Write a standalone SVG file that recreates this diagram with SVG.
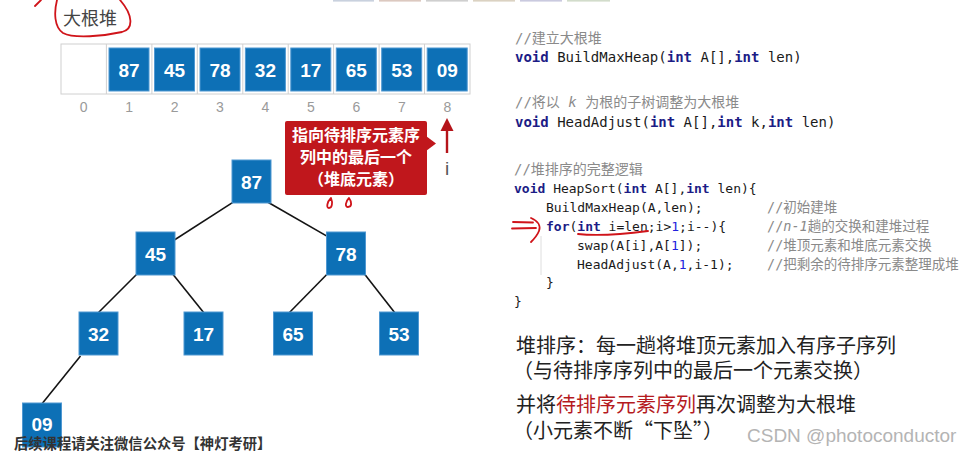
<svg xmlns="http://www.w3.org/2000/svg" width="971" height="455" viewBox="0 0 971 455">
<defs>
<style>
.cell{fill:#ffffff;stroke:#d0d0d0;stroke-width:1}
.blk{fill:#0d70b6;stroke:#4f98d2;stroke-width:1}
.num{font-family:"Liberation Sans",Arial,sans-serif;font-size:19px;font-weight:bold;fill:#ffffff;text-anchor:middle}
.idx{font-family:"Liberation Sans",Arial,sans-serif;font-size:14px;fill:#9a9a9a;text-anchor:middle}
.edge{stroke:#141414;stroke-width:1.6;fill:none}
.code{font-family:"DejaVu Sans Mono","Noto Sans CJK SC",monospace;fill:#1a1a1a}
.kw{fill:#1c1c86;font-weight:bold}
.n1{fill:#2222dd}
.cm{font-family:"DejaVu Sans Mono","Noto Sans CJK SC",monospace;fill:#8a8a8a;font-size:14px}
.cm2{font-family:"DejaVu Sans Mono","Noto Sans CJK SC",monospace;fill:#8a8a8a;font-size:13.5px}
.big{font-family:"Noto Sans CJK SC","Noto Sans",sans-serif;font-size:20px;fill:#222222}
.ink{stroke:#d0141a;stroke-width:1.8;fill:none;stroke-linecap:round;stroke-linejoin:round}
</style>
</defs>

<!-- faint cropped toolbar at top -->
<g id="topstrip">
<rect x="333" y="0" width="41" height="1.6" fill="#c9d1de"/>
<rect x="379" y="0" width="42" height="1.6" fill="#dcc9c0"/>
<rect x="426" y="0" width="42" height="1.6" fill="#cfcfcf"/>
<rect x="473" y="0" width="42" height="1.6" fill="#dbd2c2"/>
<rect x="520" y="0" width="42" height="1.6" fill="#cacadf"/>
<rect x="567" y="0" width="43" height="1.6" fill="#d2dccb"/>
</g>

<!-- title -->
<g id="title">
<text x="63" y="25" font-family="Noto Sans CJK SC,sans-serif" font-size="18" fill="#444">大根堆</text>
<path class="ink" d="M57,0 C54,12 54,27 63,33 C74,39 104,36 122,32 C134,29 133,15 120,0"/>
<path class="ink" d="M35,6 L41,0"/>
</g>

<!-- array -->
<g id="array">
<rect class="cell" x="61" y="44" width="409" height="50"/>
<line x1="106.4" y1="44" x2="106.4" y2="94" stroke="#d0d0d0"/>
<line x1="151.9" y1="44" x2="151.9" y2="94" stroke="#d0d0d0"/>
<line x1="197.3" y1="44" x2="197.3" y2="94" stroke="#d0d0d0"/>
<line x1="242.8" y1="44" x2="242.8" y2="94" stroke="#d0d0d0"/>
<line x1="288.2" y1="44" x2="288.2" y2="94" stroke="#d0d0d0"/>
<line x1="333.6" y1="44" x2="333.6" y2="94" stroke="#d0d0d0"/>
<line x1="379.1" y1="44" x2="379.1" y2="94" stroke="#d0d0d0"/>
<line x1="424.5" y1="44" x2="424.5" y2="94" stroke="#d0d0d0"/>
<g id="a1"><rect class="blk" x="109" y="48" width="40" height="43"/><text class="num" x="129" y="76.5">87</text></g>
<g id="a2"><rect class="blk" x="154.5" y="48" width="40" height="43"/><text class="num" x="174.5" y="76.5">45</text></g>
<g id="a3"><rect class="blk" x="200" y="48" width="40" height="43"/><text class="num" x="220" y="76.5">78</text></g>
<g id="a4"><rect class="blk" x="245.4" y="48" width="40" height="43"/><text class="num" x="265.4" y="76.5">32</text></g>
<g id="a5"><rect class="blk" x="290.8" y="48" width="40" height="43"/><text class="num" x="310.8" y="76.5">17</text></g>
<g id="a6"><rect class="blk" x="336.3" y="48" width="40" height="43"/><text class="num" x="356.3" y="76.5">65</text></g>
<g id="a7"><rect class="blk" x="381.7" y="48" width="40" height="43"/><text class="num" x="401.7" y="76.5">53</text></g>
<g id="a8"><rect class="blk" x="427.2" y="48" width="40" height="43"/><text class="num" x="447.2" y="76.5">09</text></g>
<text class="idx" x="83.7" y="112">0</text>
<text class="idx" x="129.2" y="112">1</text>
<text class="idx" x="174.6" y="112">2</text>
<text class="idx" x="220" y="112">3</text>
<text class="idx" x="265.5" y="112">4</text>
<text class="idx" x="310.9" y="112">5</text>
<text class="idx" x="356.4" y="112">6</text>
<text class="idx" x="401.8" y="112">7</text>
<text class="idx" x="447.3" y="112">8</text>
</g>

<!-- pointer i -->
<g id="pointer">
<line x1="447" y1="153" x2="447" y2="128" stroke="#b5141a" stroke-width="2.4"/>
<polygon points="447,118 440.5,131 453.5,131" fill="#b5141a"/>
<text x="447" y="175" font-family="Liberation Sans,Arial,sans-serif" font-size="19" fill="#555" text-anchor="middle">i</text>
</g>

<!-- callout -->
<g id="callout">
<rect x="285" y="121" width="142" height="74" rx="2" fill="#c0171c"/>
<polygon points="426,136 436,143.5 426,151" fill="#c0171c"/>
<g font-family="Noto Sans CJK SC,sans-serif" font-size="16" font-weight="bold" fill="#ffffff" text-anchor="middle">
<text x="356" y="141">指向待排序元素序</text>
<text x="356" y="163">列中的最后一个</text>
<text x="356" y="185">（堆底元素）</text>
</g>
<path class="ink" d="M331,198 C327,202 326,208 329,208 C332,208 333,203 331,198 Z" stroke-width="1.6"/>
<path class="ink" d="M349,198 C345,202 345,207 348,207 C352,207 352,202 349,198 Z" stroke-width="1.6"/>
</g>

<!-- connectors -->
<g id="connectors">
<line class="edge" x1="234" y1="201.7" x2="165" y2="246"/>
<line class="edge" x1="268" y1="202.3" x2="336" y2="241.4"/>
<line class="edge" x1="137" y1="274" x2="98" y2="313"/>
<line class="edge" x1="172.5" y1="273.7" x2="204" y2="313"/>
<line class="edge" x1="327.5" y1="273.7" x2="287" y2="315"/>
<line class="edge" x1="364.3" y1="273.8" x2="395" y2="313"/>
<line class="edge" x1="80.5" y1="356" x2="41" y2="405"/>
</g>

<!-- tree nodes -->
<g id="n87"><rect class="blk" x="232" y="160" width="39" height="43"/><text class="num" x="251.5" y="189">87</text></g>
<g id="n45"><rect class="blk" x="136" y="232" width="39" height="43"/><text class="num" x="155.5" y="261">45</text></g>
<g id="n78"><rect class="blk" x="326.5" y="232" width="39" height="43"/><text class="num" x="346" y="261">78</text></g>
<g id="n32"><rect class="blk" x="79" y="312" width="39" height="43"/><text class="num" x="98.5" y="341">32</text></g>
<g id="n17"><rect class="blk" x="184" y="312" width="39" height="43"/><text class="num" x="203.5" y="341">17</text></g>
<g id="n65"><rect class="blk" x="273.5" y="312" width="39" height="43"/><text class="num" x="293" y="341">65</text></g>
<g id="n53"><rect class="blk" x="379.5" y="312" width="39" height="43"/><text class="num" x="399" y="341">53</text></g>
<g id="n09"><rect class="blk" x="22.5" y="403" width="39" height="44"/><text class="num" x="42" y="431">09</text></g>

<!-- watermark bottom-left -->
<text x="14" y="449" font-family="Noto Sans CJK SC,sans-serif" font-size="14.3" font-weight="bold" fill="#333">后续课程请关注微信公众号【神灯考研】</text>

<!-- code block 1 -->
<g id="code1" class="code" font-size="14">
<text class="cm" x="515" y="43">//建立大根堆</text>
<text x="515" y="62" xml:space="preserve"><tspan class="kw">void</tspan> BuildMaxHeap(<tspan class="kw">int</tspan> A[],<tspan class="kw">int</tspan> len)</text>
<text class="cm" x="515" y="107" xml:space="preserve">//将以 <tspan font-style="italic">k</tspan> 为根的子树调整为大根堆</text>
<text x="515" y="127" xml:space="preserve"><tspan class="kw">void</tspan> HeadAdjust(<tspan class="kw">int</tspan> A[],<tspan class="kw">int</tspan> k,<tspan class="kw">int</tspan> len)</text>
</g>

<!-- code block 2 -->
<g id="code2" class="code" font-size="13">
<text class="cm" x="514" y="174">//堆排序的完整逻辑</text>
<text x="514" y="193" xml:space="preserve"><tspan class="kw">void</tspan> HeapSort(<tspan class="kw">int</tspan> A[],<tspan class="kw">int</tspan> len){</text>
<text x="546" y="212">BuildMaxHeap(A,len);</text>
<text x="546" y="231" xml:space="preserve"><tspan class="kw">for</tspan>(<tspan class="kw">int</tspan> i=len;i&gt;<tspan class="n1">1</tspan>;i--){</text>
<text x="577" y="250" xml:space="preserve">swap(A[i],A[<tspan class="n1">1</tspan>]);</text>
<text x="577" y="269" xml:space="preserve">HeadAdjust(A,<tspan class="n1">1</tspan>,i-1);</text>
<text x="546" y="287">}</text>
<text x="514" y="306">}</text>
<text class="cm2" x="767" y="212">//初始建堆</text>
<text class="cm2" x="767" y="231">//<tspan font-style="italic">n-1</tspan>趟的交换和建堆过程</text>
<text class="cm2" x="767" y="250">//堆顶元素和堆底元素交换</text>
<text class="cm2" x="767" y="269">//把剩余的待排序元素整理成堆</text>
<line x1="541" y1="236" x2="541" y2="275" stroke="#dedede" stroke-width="1"/>
</g>

<!-- hand annotations near for -->
<g id="for-mark">
<path class="ink" d="M513,222 L533,222.5"/>
<path class="ink" d="M512,228.5 L536,228"/>
<path class="ink" d="M531,218 C538,221 541,226 539,231 C537,236 534,239 531,242"/>
<path class="ink" d="M578,234 C595,236 625,234 648,231"/>
</g>

<!-- summary text -->
<g id="summary">
<text class="big" x="516" y="353">堆排序：每一趟将堆顶元素加入有序子序列</text>
<text class="big" x="513" y="378">（与待排序序列中的最后一个元素交换）</text>
<text class="big" x="516" y="412">并将<tspan fill="#b51a1e">待排序元素序列</tspan>再次调整为大根堆</text>
<text class="big" x="513" y="438">（小元素不断“下坠”）</text>
</g>

<text x="747" y="442" font-family="Liberation Sans,Arial,sans-serif" font-size="19" fill="#b4b4b4">CSDN @photoconductor</text>
</svg>
